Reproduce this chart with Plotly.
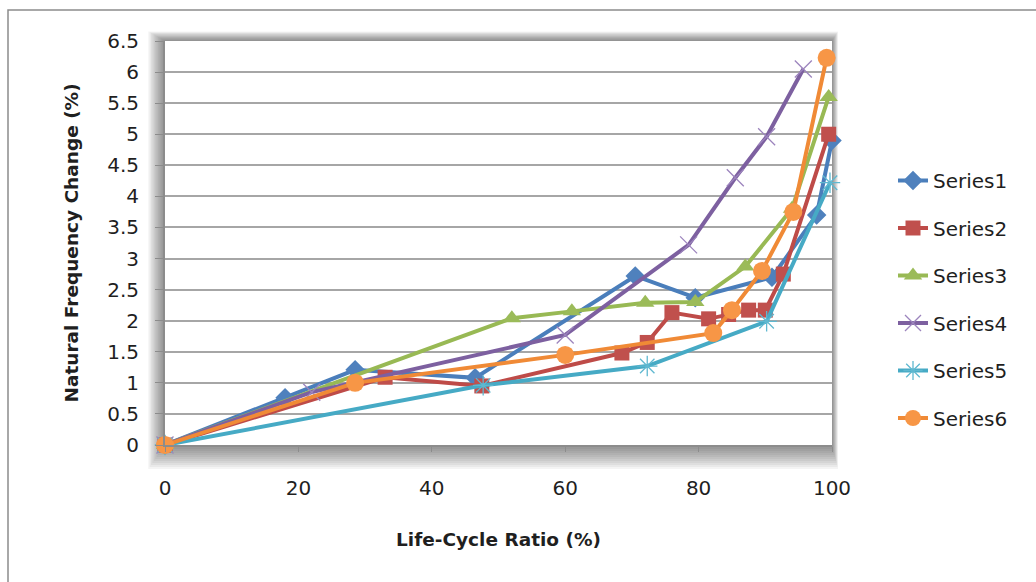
import plotly.graph_objects as go

# ---- data ----
s1_x = [0, 18, 28.5, 46.5, 70.5, 79.5, 91, 97.7, 100]
s1_y = [0, 0.76, 1.21, 1.08, 2.72, 2.37, 2.7, 3.7, 4.9]

s2_x = [0, 33, 47.5, 68.5, 72.3, 76, 81.5, 84.5, 87.5, 90, 92.7, 99.5]
s2_y = [0, 1.09, 0.95, 1.48, 1.65, 2.13, 2.03, 2.1, 2.17, 2.17, 2.75, 5.0]

s3_x = [0, 52, 61, 72, 79.5, 87, 94, 99.5]
s3_y = [0, 2.04, 2.15, 2.29, 2.3, 2.87, 3.8, 5.6]

s4_x = [0, 22, 60, 78.5, 85.5, 90.2, 95.7]
s4_y = [0, 0.85, 1.77, 3.22, 4.3, 4.96, 6.05]

s5_x = [0, 47.7, 72.3, 90.2, 99.7]
s5_y = [0, 0.96, 1.27, 1.99, 4.22]

s6_x = [0, 28.5, 60, 82.2, 85, 89.5, 94.2, 99.2]
s6_y = [0, 1.0, 1.45, 1.8, 2.17, 2.8, 3.75, 6.23]

names = ["Series1", "Series2", "Series3", "Series4", "Series5", "Series6"]
line_colors = ["#4A7EBB", "#BE4B48", "#98B954", "#7D60A0", "#46AAC5", "#F08A36"]
marker_colors = ["#4F81BD", "#C0504D", "#9BBB59", "#9C84BD", "#5FB8D0", "#F79646"]
symbols = ["diamond", "square", "triangle-up", "x-thin-open", "asterisk-open", "circle"]
sizes = [15, 15, 16, 17, 17, 18]

xs = [s1_x, s2_x, s3_x, s4_x, s5_x, s6_x]
ys = [s1_y, s2_y, s3_y, s4_y, s5_y, s6_y]

FONT = "'DejaVu Sans', Verdana, sans-serif"
TXT = "#1f1f1f"

fig = go.Figure()
for i in range(6):
    open_sym = symbols[i].endswith("open")
    fig.add_trace(go.Scatter(
        x=xs[i], y=ys[i], name=names[i], mode="lines+markers",
        legendgroup=names[i],
        line=dict(color=line_colors[i], width=4),
        marker=dict(symbol=symbols[i], size=sizes[i], color=marker_colors[i],
                    line=dict(color=marker_colors[i], width=1.3 if open_sym else 0)),
        cliponaxis=False,
    ))

L, R, T, B = 165, 204, 41, 137
W, H = 1036, 582
pw, ph = W - L - R, H - T - B

def px(p):
    return (p - L) / pw

def py(q):
    return (H - B - q) / ph

shapes = []
# soft shadow around plot area (offset down-left)
for k in range(12, 0, -1):
    shapes.append(dict(type="rect", xref="paper", yref="paper", layer="below",
                       x0=px(L - 1.4 * k), x1=px(L + pw + 0.5 * k),
                       y0=py(T + ph + 2.0 * k), y1=py(T - 0.8 * k),
                       fillcolor="rgba(0,0,0,0.045)", line=dict(width=0)))
shapes.append(dict(type="rect", xref="paper", yref="paper", layer="below",
                   x0=0, x1=1, y0=0, y1=1, fillcolor="white", line=dict(width=0)))
# outer chart border
shapes.append(dict(type="rect", xref="paper", yref="paper", layer="below",
                   x0=px(8), x1=px(1045), y0=py(592), y1=py(10),
                   fillcolor="rgba(0,0,0,0)", line=dict(color="#8C8C8C", width=1.5)))

fig.update_layout(
    width=W, height=H,
    margin=dict(l=L, r=R, t=T, b=B),
    paper_bgcolor="white", plot_bgcolor="rgba(0,0,0,0)",
    font=dict(family=FONT, size=18, color=TXT),
    showlegend=True,
    legend=dict(x=px(893), y=py(161), xanchor="left", yanchor="top",
                font=dict(family=FONT, size=20, color=TXT),
                tracegroupgap=18.5, bgcolor="rgba(0,0,0,0)"),
    shapes=shapes,
    xaxis=dict(range=[0, 100], dtick=20, tick0=0, showgrid=False, zeroline=False,
               showline=True, linecolor="#8C8C8C", linewidth=2,
               ticks="outside", ticklen=5, tickcolor="#8C8C8C", tickwidth=1,
               ticklabelstandoff=19,
               tickfont=dict(family=FONT, size=20, color=TXT),
               title=dict(text="<b>Life-Cycle Ratio (%)</b>", standoff=34,
                          font=dict(family=FONT, size=18.5, color=TXT))),
    yaxis=dict(range=[0, 6.5], dtick=0.5, tick0=0, showgrid=True, gridcolor="#A6A6A6",
               gridwidth=1.5, zeroline=False,
               showline=True, linecolor="#8C8C8C", linewidth=2,
               ticks="outside", ticklen=8, tickcolor="#8C8C8C", tickwidth=1,
               ticklabelstandoff=12,
               tickfont=dict(family=FONT, size=20, color=TXT),
               title=dict(text="<b>Natural Frequency Change (%)</b>", standoff=24,
                          font=dict(family=FONT, size=18.5, color=TXT))),
)

fig.write_html("out.html")
